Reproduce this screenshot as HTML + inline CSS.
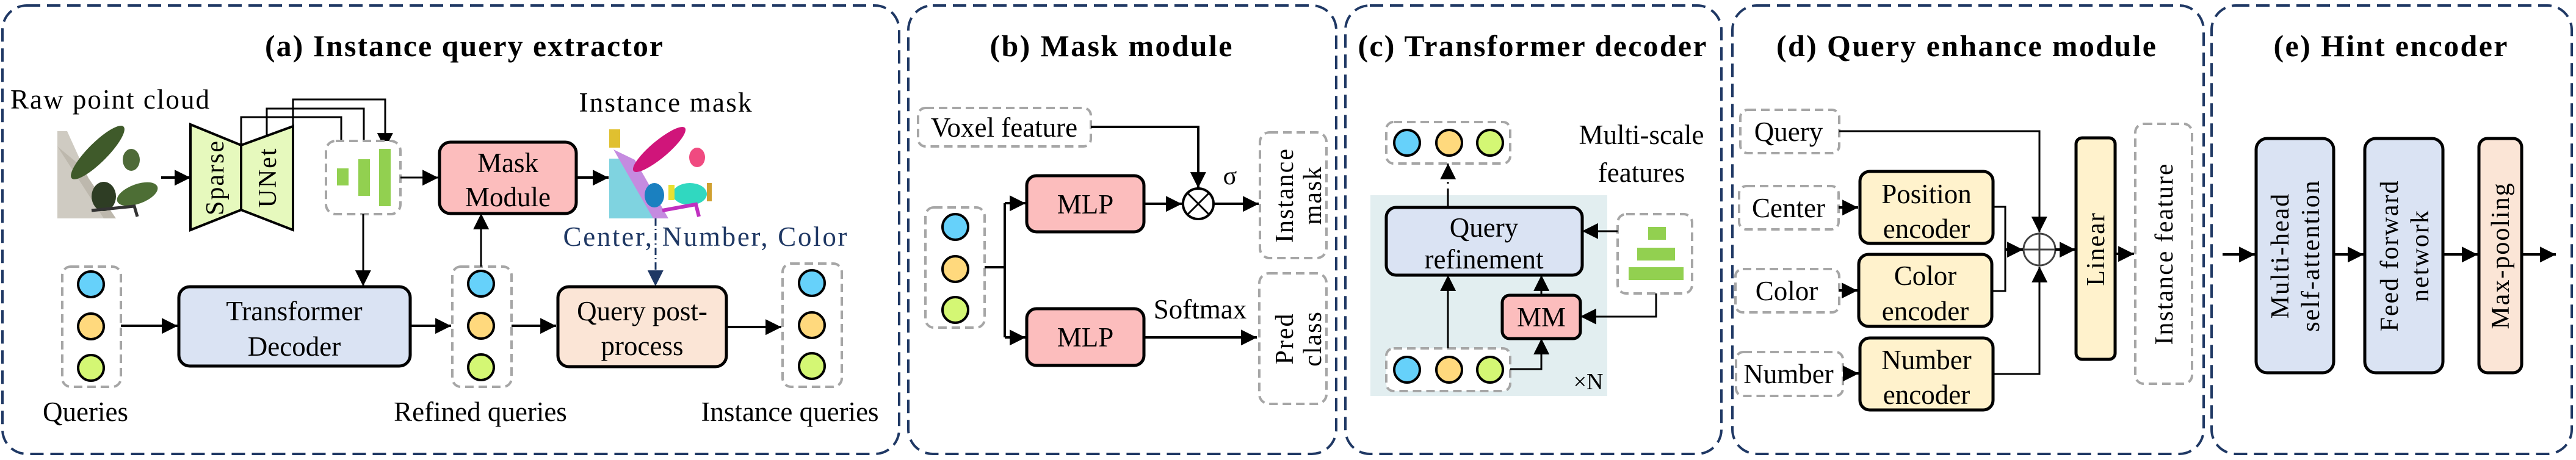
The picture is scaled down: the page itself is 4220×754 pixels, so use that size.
<!DOCTYPE html>
<html><head><meta charset="utf-8"><style>
html,body{margin:0;padding:0;background:#fff;}
svg{display:block;font-family:"Liberation Serif","Times New Roman",Times,serif;}
svg text{font-family:"Liberation Serif","Times New Roman",Times,serif;fill:#000;}
.t{font-size:50px;font-weight:bold;text-anchor:middle;}
.l{font-size:45px;text-anchor:middle;}
.r{font-size:42px;text-anchor:middle;letter-spacing:2px;}
.pan{fill:none;stroke:#1f3864;stroke-width:4;stroke-dasharray:22 11;}
.dash{fill:#fff;stroke:#a6a6a6;stroke-width:4;stroke-dasharray:14 8;}
.box{stroke:#000;stroke-width:5;}
.ln{stroke:#000;stroke-width:3;fill:none;}
.ln2{stroke:#000;stroke-width:4;fill:none;}
.cb{fill:#66d1fa;stroke:#000;stroke-width:4;}
.co{fill:#ffd97d;stroke:#000;stroke-width:4;}
.cg{fill:#d4f774;stroke:#000;stroke-width:4;}
.g{fill:#92d050;}
</style></head><body>
<svg width="4220" height="754" viewBox="0 0 4220 754" xmlns="http://www.w3.org/2000/svg" font-family="Liberation Serif, serif">
<defs>
<marker id="a" markerWidth="10" markerHeight="10" refX="9" refY="5" orient="auto" markerUnits="userSpaceOnUse" viewBox="0 0 10 10" style="overflow:visible">
<path d="M0,0 L10,5 L0,10 Z" fill="#000" transform="scale(2.6) translate(-6.5,-3)"/>
</marker>
<marker id="ab" markerWidth="10" markerHeight="10" refX="9" refY="5" orient="auto" markerUnits="userSpaceOnUse" viewBox="0 0 10 10" style="overflow:visible">
<path d="M0,0 L10,5 L0,10 Z" fill="#1f3864" transform="scale(2.6) translate(-6.5,-3)"/>
</marker>
</defs>

<rect class="pan" x="4" y="9" width="1469" height="735" rx="40"/>
<rect class="pan" x="1488" y="9" width="701" height="735" rx="40"/>
<rect class="pan" x="2204" y="9" width="616" height="735" rx="40"/>
<rect class="pan" x="2838" y="9" width="772" height="735" rx="40"/>
<rect class="pan" x="3623" y="9" width="590" height="735" rx="40"/>

<text class="t" x="760" y="92" textLength="652">(a) Instance query extractor</text>
<text class="t" x="1820" y="92" textLength="397">(b) Mask module</text>
<text class="t" x="2510" y="92" textLength="571">(c) Transformer decoder</text>
<text class="t" x="3221" y="92" textLength="622">(d) Query enhance module</text>
<text class="t" x="3916" y="92" textLength="383">(e) Hint encoder</text>

<!-- ===== Panel a ===== -->
<text class="l" x="180" y="178" textLength="326">Raw point cloud</text>
<polygon points="94,215 110,215 175,358 94,358" fill="#cfcbc2"/>
<polygon points="94,240 130,270 190,358 170,358" fill="#bdb8ad"/>
<ellipse cx="160" cy="250" rx="60" ry="16" transform="rotate(-45 160 250)" fill="#3f5a2a"/>
<ellipse cx="215" cy="262" rx="14" ry="18" fill="#4e6a38"/>
<ellipse cx="170" cy="322" rx="20" ry="24" fill="#2e3d24"/>
<ellipse cx="225" cy="318" rx="35" ry="16" transform="rotate(-20 225 318)" fill="#4d6e35"/>
<path d="M150,345 L220,338 L225,355" stroke="#333" stroke-width="5" fill="none"/>

<polygon points="312,204 395,238 395,344 312,377" fill="#e6f9bd" stroke="#000" stroke-width="4"/>
<polygon points="395,238 480,207 480,377 395,344" fill="#e6f9bd" stroke="#000" stroke-width="4"/>
<text class="r" transform="translate(366,291) rotate(-90)">Sparse</text>
<text class="r" transform="translate(452,291) rotate(-90)">UNet</text>
<line class="ln2" x1="264" y1="291" x2="312" y2="291" marker-end="url(#a)"/>

<polyline class="ln" points="395,238 395,192 559,192 559,276" marker-end="url(#a)"/>
<polyline class="ln" points="437,222 437,178 596,178 596,261" marker-end="url(#a)"/>
<polyline class="ln" points="480,207 480,163 631,163 631,244" marker-end="url(#a)"/>

<rect class="dash" x="534" y="231" width="122" height="120" rx="16"/>
<rect class="g" x="552" y="276" width="19" height="28"/>
<rect class="g" x="587" y="261" width="19" height="60"/>
<rect class="g" x="621" y="244" width="19" height="94"/>
<line class="ln" x1="656" y1="291" x2="718" y2="291" marker-end="url(#a)"/>

<rect class="box" x="720" y="233" width="224" height="117" rx="18" fill="#fcbdbd"/>
<text class="l" x="832" y="282">Mask</text>
<text class="l" x="832" y="338">Module</text>
<line class="ln2" x1="944" y1="291" x2="997" y2="291" marker-end="url(#a)"/>

<text class="l" x="1090" y="183" textLength="283">Instance mask</text>
<polygon points="998,260 1020,260 1085,358 998,358" fill="#7fd3e0"/>
<polygon points="1005,245 1040,262 1095,358 1070,358" fill="#c58be0"/>
<rect x="998" y="212" width="18" height="30" fill="#e0c030"/>
<ellipse cx="1080" cy="245" rx="55" ry="14" transform="rotate(-40 1080 245)" fill="#d0157a"/>
<ellipse cx="1142" cy="258" rx="13" ry="16" fill="#f04a80"/>
<ellipse cx="1072" cy="320" rx="16" ry="20" fill="#1a80c0"/>
<ellipse cx="1130" cy="318" rx="28" ry="18" fill="#30d8c0"/>
<rect x="1095" y="303" width="10" height="25" fill="#e8e030"/>
<path d="M1085,345 L1140,335 L1145,355" stroke="#c030c0" stroke-width="6" fill="none"/>
<rect x="1158" y="300" width="8" height="30" fill="#d0a030"/>

<text x="1155" y="403" font-size="45" text-anchor="middle" style="fill:#1f3864" textLength="465">Center, Number, Color</text>
<line x1="1074" y1="358" x2="1074" y2="469" stroke="#1f3864" stroke-width="3" stroke-dasharray="12 5 2 5" marker-end="url(#ab)"/>

<line class="ln" x1="595" y1="351" x2="595" y2="469" marker-end="url(#a)"/>

<rect class="box" x="293" y="470" width="379" height="130" rx="18" fill="#dae3f3"/>
<text class="l" x="482" y="525">Transformer</text>
<text class="l" x="482" y="583">Decoder</text>

<rect class="dash" x="102" y="437" width="96" height="197" rx="14"/>
<circle class="cb" cx="149" cy="466" r="21"/><circle class="co" cx="149" cy="535" r="21"/><circle class="cg" cx="149" cy="603" r="21"/>
<line class="ln2" x1="198" y1="534" x2="291" y2="534" marker-end="url(#a)"/>
<line class="ln2" x1="672" y1="534" x2="739" y2="534" marker-end="url(#a)"/>
<rect class="dash" x="741" y="437" width="97" height="197" rx="14"/>
<circle class="cb" cx="788" cy="465" r="21"/><circle class="co" cx="788" cy="534" r="21"/><circle class="cg" cx="788" cy="602" r="21"/>
<line class="ln" x1="788" y1="437" x2="788" y2="350" marker-end="url(#a)"/>
<line class="ln2" x1="838" y1="534" x2="911" y2="534" marker-end="url(#a)"/>
<rect class="box" x="914" y="470" width="276" height="131" rx="18" fill="#fbe5d6"/>
<text class="l" x="1052" y="525">Query post-</text>
<text class="l" x="1052" y="582">process</text>
<line class="ln2" x1="1190" y1="536" x2="1280" y2="536" marker-end="url(#a)"/>
<rect class="dash" x="1282" y="432" width="97" height="202" rx="14"/>
<circle class="cb" cx="1330" cy="464" r="21"/><circle class="co" cx="1330" cy="533" r="21"/><circle class="cg" cx="1330" cy="600" r="21"/>

<text class="l" x="140" y="690">Queries</text>
<text class="l" x="787" y="690">Refined queries</text>
<text class="l" x="1294" y="690">Instance queries</text>

<!-- ===== Panel b ===== -->
<rect class="dash" x="1504" y="177" width="283" height="63" rx="12"/>
<text class="l" x="1645" y="224">Voxel feature</text>
<polyline class="ln2" points="1787,208 1963,208 1963,308" marker-end="url(#a)"/>
<circle cx="1963" cy="334" r="25" fill="#fff" stroke="#000" stroke-width="4"/>
<line x1="1945" y1="316" x2="1981" y2="352" stroke="#000" stroke-width="3"/>
<line x1="1981" y1="316" x2="1945" y2="352" stroke="#000" stroke-width="3"/>
<text x="2015" y="302" font-size="42" text-anchor="middle">σ</text>
<line class="ln2" x1="1988" y1="334" x2="2062" y2="334" marker-end="url(#a)"/>
<rect class="box" x="1682" y="288" width="192" height="92" rx="16" fill="#fcbdbd"/>
<text class="l" x="1778" y="350">MLP</text>
<line class="ln2" x1="1874" y1="334" x2="1936" y2="334" marker-end="url(#a)"/>
<rect class="box" x="1682" y="506" width="192" height="93" rx="16" fill="#fcbdbd"/>
<text class="l" x="1778" y="568">MLP</text>
<line class="ln2" x1="1876" y1="553" x2="2059" y2="553" marker-end="url(#a)"/>
<text class="l" x="1966" y="522">Softmax</text>
<rect class="dash" x="1516" y="340" width="97" height="197" rx="14"/>
<circle class="cb" cx="1565" cy="372" r="21"/><circle class="co" cx="1565" cy="441" r="21"/><circle class="cg" cx="1565" cy="508" r="21"/>
<polyline class="ln2" points="1613,438 1646,438"/>
<line class="ln2" x1="1646" y1="333" x2="1646" y2="553"/>
<line class="ln2" x1="1646" y1="333" x2="1680" y2="333" marker-end="url(#a)"/>
<line class="ln2" x1="1646" y1="553" x2="1680" y2="553" marker-end="url(#a)"/>
<rect class="dash" x="2064" y="217" width="109" height="206" rx="16"/>
<text class="r" transform="translate(2104,320) rotate(-90)" dy="14">Instance</text>
<text class="r" transform="translate(2150,320) rotate(-90)" dy="14">mask</text>
<rect class="dash" x="2063" y="448" width="110" height="214" rx="16"/>
<text class="r" transform="translate(2104,555) rotate(-90)" dy="14">Pred</text>
<text class="r" transform="translate(2150,555) rotate(-90)" dy="14">class</text>

<!-- ===== Panel c ===== -->
<rect x="2245" y="320" width="388" height="329" fill="#e2eef0"/>
<rect class="dash" x="2271" y="200" width="203" height="68" rx="12"/>
<circle class="cb" cx="2305" cy="234" r="21"/><circle class="co" cx="2374" cy="234" r="21"/><circle class="cg" cx="2441" cy="234" r="21"/>
<line x1="2372" y1="339" x2="2372" y2="268" stroke="#000" stroke-width="3" stroke-dasharray="30 8 3 8" marker-end="url(#a)"/>
<rect class="box" x="2271" y="340" width="321" height="111" rx="16" fill="#dae3f3"/>
<text class="l" x="2431" y="388">Query</text>
<text class="l" x="2431" y="440">refinement</text>
<text class="l" x="2689" y="236">Multi-scale</text>
<text class="l" x="2689" y="298">features</text>
<rect class="dash" x="2650" y="351" width="122" height="130" rx="14"/>
<rect class="g" x="2700" y="372" width="29" height="21"/>
<rect class="g" x="2682" y="406" width="62" height="21"/>
<rect class="g" x="2668" y="438" width="90" height="21"/>
<line class="ln" x1="2650" y1="379" x2="2592" y2="379" marker-end="url(#a)"/>
<polyline class="ln" points="2713,481 2713,519 2589,519" marker-end="url(#a)"/>
<rect class="box" x="2461" y="484" width="128" height="71" rx="12" fill="#fcbdbd"/>
<text class="l" x="2525" y="535">MM</text>
<line class="ln" x1="2525" y1="484" x2="2525" y2="451" marker-end="url(#a)"/>
<rect class="dash" x="2271" y="571" width="203" height="70" rx="12"/>
<circle class="cb" cx="2305" cy="606" r="21"/><circle class="co" cx="2374" cy="606" r="21"/><circle class="cg" cx="2441" cy="606" r="21"/>
<line class="ln" x1="2372" y1="571" x2="2372" y2="451" marker-end="url(#a)"/>
<polyline class="ln" points="2474,605 2525,605 2525,555" marker-end="url(#a)"/>
<text x="2602" y="638" font-size="38" text-anchor="middle">×N</text>

<!-- ===== Panel d ===== -->
<rect class="dash" x="2851" y="180" width="162" height="71" rx="12"/>
<text class="l" x="2930" y="231">Query</text>
<polyline class="ln" points="3013,215 3341,215 3341,381" marker-end="url(#a)"/>
<circle cx="3341" cy="409" r="26" fill="#fff" stroke="#444" stroke-width="3"/>
<line x1="3315" y1="409" x2="3367" y2="409" stroke="#444" stroke-width="3"/>
<line x1="3341" y1="383" x2="3341" y2="435" stroke="#444" stroke-width="3"/>
<rect class="dash" x="2849" y="305" width="163" height="71" rx="12"/>
<text class="l" x="2930" y="356">Center</text>
<line class="ln2" x1="3012" y1="340" x2="3044" y2="340" marker-end="url(#a)"/>
<rect class="box" x="3047" y="281" width="218" height="118" rx="16" fill="#fff2cc"/>
<text class="l" x="3156" y="333">Position</text>
<text class="l" x="3156" y="390">encoder</text>
<rect class="dash" x="2843" y="441" width="170" height="71" rx="12"/>
<text class="l" x="2927" y="492">Color</text>
<line class="ln2" x1="3013" y1="476" x2="3043" y2="476" marker-end="url(#a)"/>
<rect class="box" x="3045" y="417" width="218" height="118" rx="16" fill="#fff2cc"/>
<text class="l" x="3154" y="467">Color</text>
<text class="l" x="3154" y="525">encoder</text>
<rect class="dash" x="2844" y="577" width="175" height="72" rx="12"/>
<text class="l" x="2930" y="628">Number</text>
<line class="ln2" x1="3019" y1="612" x2="3045" y2="612" marker-end="url(#a)"/>
<rect class="box" x="3047" y="554" width="218" height="118" rx="16" fill="#fff2cc"/>
<text class="l" x="3156" y="605">Number</text>
<text class="l" x="3156" y="662">encoder</text>
<polyline class="ln" points="3265,339 3285,339 3285,477 3263,477"/>
<line class="ln2" x1="3285" y1="409" x2="3314" y2="409" marker-end="url(#a)"/>
<polyline class="ln" points="3265,613 3341,613 3341,437" marker-end="url(#a)"/>
<line class="ln2" x1="3367" y1="409" x2="3400" y2="409" marker-end="url(#a)"/>
<rect class="box" x="3401" y="226" width="64" height="363" rx="10" fill="#fff2cc"/>
<text class="r" transform="translate(3433,408) rotate(-90)" dy="14">Linear</text>
<line class="ln2" x1="3465" y1="416" x2="3496" y2="416" marker-end="url(#a)"/>
<rect class="dash" x="3498" y="203" width="93" height="426" rx="14"/>
<text class="r" transform="translate(3545,416) rotate(-90)" dy="14">Instance feature</text>

<!-- ===== Panel e ===== -->
<line class="ln2" x1="3641" y1="417" x2="3694" y2="417" marker-end="url(#a)"/>
<rect class="box" x="3696" y="227" width="127" height="384" rx="18" fill="#dae3f3"/>
<text class="r" transform="translate(3735,419) rotate(-90)" dy="14">Multi-head</text>
<text class="r" transform="translate(3785,419) rotate(-90)" dy="14">self-attention</text>
<line class="ln2" x1="3823" y1="417" x2="3872" y2="417" marker-end="url(#a)"/>
<rect class="box" x="3874" y="227" width="128" height="384" rx="18" fill="#dae3f3"/>
<text class="r" transform="translate(3914,419) rotate(-90)" dy="14">Feed forward</text>
<text class="r" transform="translate(3964,419) rotate(-90)" dy="14">network</text>
<line class="ln2" x1="4002" y1="417" x2="4059" y2="417" marker-end="url(#a)"/>
<rect class="box" x="4061" y="227" width="70" height="384" rx="14" fill="#fbe5d6"/>
<text class="r" transform="translate(4096,419) rotate(-90)" dy="14">Max-pooling</text>
<line class="ln2" x1="4131" y1="417" x2="4187" y2="417" marker-end="url(#a)"/>
</svg>
</body></html>
